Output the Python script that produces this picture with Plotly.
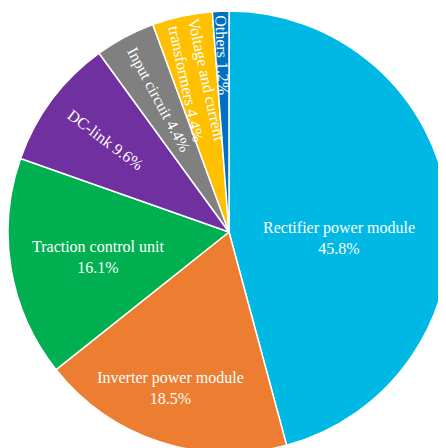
import plotly.graph_objects as go

labels = ["Rectifier power module", "Inverter power module", "Traction control unit",
          "DC-link", "Input circuit", "Voltage and current transformers", "Others"]
values = [45.8, 18.5, 16.1, 9.6, 4.4, 4.4, 1.2]
colors = ["#00B8E4", "#ED7D31", "#00B050", "#7030A0", "#808080", "#FFC000", "#0070C0"]

S = "\u00a0"  # non-breaking space used as invisible padding to nudge label placement
horiz_text = [
    S + "<br>" + S + "<br>Rectifier power module<br>45.8%",
    S + "<br>" + S + "<br>Inverter power module" + S * 7 + "<br>18.5%" + S * 7,
    S + "<br>" + S * 8 + "Traction control unit<br>" + S * 8 + "16.1%<br>" + S,
    "", "", "", "",
]
radial_text = [
    "", "", "",
    "DC-link 9.6%" + S * 13,
    "Input circuit 4.4%",
    S * 5 + "Voltage and current<br>" + S * 5 + "transformers 4.4%",
    S * 5 + "Others 1.2%",
]

dom = dict(x=[0.0, 0.991], y=[0.0067, 0.9933])
font = dict(family="Liberation Serif, Times New Roman, serif", size=16, color="white")

fig = go.Figure()
fig.add_trace(go.Pie(
    labels=labels, values=values, sort=False, direction="clockwise", rotation=0,
    marker=dict(colors=colors, line=dict(color="white", width=1.5)),
    text=horiz_text, textinfo="text", textposition="inside",
    insidetextorientation="horizontal", insidetextfont=font,
    domain=dom, showlegend=False, hoverinfo="label+percent",
))
fig.add_trace(go.Pie(
    labels=labels, values=values, sort=False, direction="clockwise", rotation=0,
    marker=dict(colors=["rgba(0,0,0,0)"] * len(values), line=dict(width=0)),
    text=radial_text, textinfo="text", textposition="inside",
    insidetextorientation="radial", insidetextfont=font,
    domain=dom, showlegend=False, hoverinfo="skip",
))
fig.update_layout(
    width=446, height=448, margin=dict(l=0, r=0, t=0, b=0),
    paper_bgcolor="white", plot_bgcolor="white",
    uniformtext=dict(minsize=16, mode="show"),
)
fig.write_html("out.html")
